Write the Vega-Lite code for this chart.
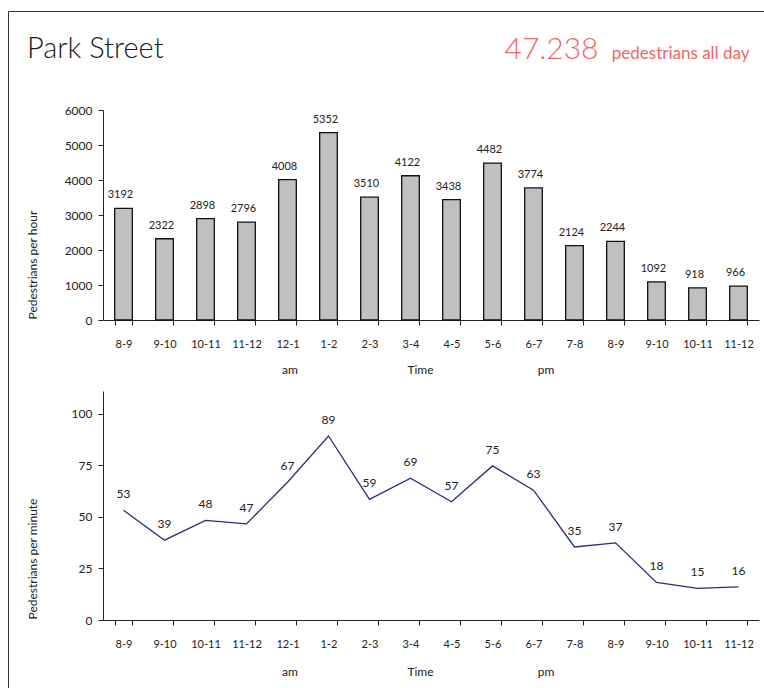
{
  "$schema": "https://vega.github.io/schema/vega-lite/v6.json",
  "width": 758,
  "height": 679,
  "autosize": "none",
  "padding": {"left": 8, "top": 11, "right": -2, "bottom": -2},
  "title": {"text": "Park Street", "anchor": "start", "frame": "group", "fontSize": 29, "fontWeight": 300, "color": "#1a1a1a", "offset": 0, "dx": 19, "dy": 76, "baseline": "alphabetic"},
  "config": {
    "font": "Lato",
    "view": {"stroke": "#333", "strokeWidth": 1},
    "axis": {"grid": false, "domainColor": "#222", "tickColor": "#222", "labelColor": "#222", "titleColor": "#222", "labelFont": "Lato", "titleFont": "Lato", "titleFontWeight": "normal"}
  },
  "resolve": {"scale": {"y": "independent"}, "axis": {"x": "independent", "y": "independent"}},
  "layer": [
    {
      "data": {"values": [
        {"hour": "8-9 am", "count": 3192},
        {"hour": "9-10 am", "count": 2322},
        {"hour": "10-11 am", "count": 2898},
        {"hour": "11-12 am", "count": 2796},
        {"hour": "12-1 pm", "count": 4008},
        {"hour": "1-2 pm", "count": 5352},
        {"hour": "2-3 pm", "count": 3510},
        {"hour": "3-4 pm", "count": 4122},
        {"hour": "4-5 pm", "count": 3438},
        {"hour": "5-6 pm", "count": 4482},
        {"hour": "6-7 pm", "count": 3774},
        {"hour": "7-8 pm", "count": 2124},
        {"hour": "8-9 pm", "count": 2244},
        {"hour": "9-10 pm", "count": 1092},
        {"hour": "10-11 pm", "count": 918},
        {"hour": "11-12 pm", "count": 966}
      ]},
      "layer": [
        {
          "mark": {"type": "bar", "fill": "#c0c0c0", "stroke": "#111", "strokeWidth": 1.3},
          "encoding": {
            "x": {"field": "hour", "type": "nominal", "sort": null,
              "scale": {"type": "band", "domain": ["8-9 am","9-10 am","10-11 am","11-12 am","12-1 pm","1-2 pm","2-3 pm","3-4 pm","4-5 pm","5-6 pm","6-7 pm","7-8 pm","8-9 pm","9-10 pm","10-11 pm","11-12 pm"], "range": [95, 751], "paddingInner": 0.57, "paddingOuter": 0.285},
              "axis": {"orient": "bottom", "title": null, "offset": -370, "tickBand": "extent", "tickSize": 5, "labelPadding": 22, "labelBaseline": "alphabetic", "labelAngle": 0, "labelFontSize": 11, "labelExpr": "split(datum.label, ' ')[0]"}},
            "y": {"field": "count", "type": "quantitative",
              "scale": {"domain": [0, 6000], "range": [309, 99], "nice": false},
              "axis": {"orient": "left", "title": "Pedestrians per hour", "offset": -95, "values": [0,1000,2000,3000,4000,5000,6000], "format": "d", "tickSize": 5, "labelPadding": 6, "labelFontSize": 12, "titleFontSize": 12, "titleAngle": -90, "titleX": -71, "titleY": 308, "titleAlign": "left", "titleBaseline": "middle"}}
          }
        },
        {
          "mark": {"type": "text", "fontSize": 11, "dx": -3, "dy": -10, "baseline": "alphabetic", "color": "#222"},
          "encoding": {
            "x": {"field": "hour", "type": "nominal", "bandPosition": 0.5},
            "y": {"field": "count", "type": "quantitative"},
            "text": {"field": "count", "type": "quantitative", "format": "d"}
          }
        },
        {
          "data": {"values": [{"t": "47.238"}]},
          "mark": {"type": "text", "fontSize": 30, "fontWeight": 300, "color": "#f06666", "align": "right", "baseline": "alphabetic", "dx": -140},
          "encoding": {"x": {"datum": "11-12 pm", "type": "nominal", "bandPosition": 0.5}, "y": {"datum": 7457, "type": "quantitative"}, "text": {"field": "t"}}
        },
        {
          "data": {"values": [{"t": "pedestrians all day"}]},
          "mark": {"type": "text", "fontSize": 17, "color": "#f06666", "align": "right", "baseline": "alphabetic", "dx": 11},
          "encoding": {"x": {"datum": "11-12 pm", "type": "nominal", "bandPosition": 0.5}, "y": {"datum": 7457, "type": "quantitative"}, "text": {"field": "t"}}
        },
        {
          "data": {"values": [{"t": "am"}]},
          "mark": {"type": "text", "fontSize": 12, "color": "#222", "align": "center", "baseline": "alphabetic", "dx": 2.5},
          "encoding": {"x": {"datum": "12-1 pm", "type": "nominal", "bandPosition": 0.5}, "y": {"datum": -1543, "type": "quantitative"}, "text": {"field": "t"}}
        },
        {
          "data": {"values": [{"t": "Time"}]},
          "mark": {"type": "text", "fontSize": 12, "color": "#222", "align": "center", "baseline": "alphabetic", "dx": 10},
          "encoding": {"x": {"datum": "3-4 pm", "type": "nominal", "bandPosition": 0.5}, "y": {"datum": -1543, "type": "quantitative"}, "text": {"field": "t"}}
        },
        {
          "data": {"values": [{"t": "pm"}]},
          "mark": {"type": "text", "fontSize": 12, "color": "#222", "align": "center", "baseline": "alphabetic", "dx": 12.5},
          "encoding": {"x": {"datum": "6-7 pm", "type": "nominal", "bandPosition": 0.5}, "y": {"datum": -1543, "type": "quantitative"}, "text": {"field": "t"}}
        }
      ]
    },
    {
      "data": {"values": [
        {"hour": "8-9 am", "perMin": 53.2},
        {"hour": "9-10 am", "perMin": 38.7},
        {"hour": "10-11 am", "perMin": 48.3},
        {"hour": "11-12 am", "perMin": 46.6},
        {"hour": "12-1 pm", "perMin": 66.8},
        {"hour": "1-2 pm", "perMin": 89.2},
        {"hour": "2-3 pm", "perMin": 58.5},
        {"hour": "3-4 pm", "perMin": 68.7},
        {"hour": "4-5 pm", "perMin": 57.3},
        {"hour": "5-6 pm", "perMin": 74.7},
        {"hour": "6-7 pm", "perMin": 62.9},
        {"hour": "7-8 pm", "perMin": 35.4},
        {"hour": "8-9 pm", "perMin": 37.4},
        {"hour": "9-10 pm", "perMin": 18.2},
        {"hour": "10-11 pm", "perMin": 15.3},
        {"hour": "11-12 pm", "perMin": 16.1}
      ]},
      "layer": [
        {
          "mark": {"type": "line", "color": "#2c2c78", "strokeWidth": 1.3},
          "encoding": {
            "x": {"field": "hour", "type": "nominal", "sort": null, "bandPosition": 0.5, "scale": {"type": "band"},
              "axis": {"orient": "bottom", "title": null, "offset": -70, "tickBand": "extent", "tickSize": 5, "labelPadding": 22, "labelBaseline": "alphabetic", "labelAngle": 0, "labelFontSize": 11, "labelExpr": "split(datum.label, ' ')[0]"}},
            "y": {"field": "perMin", "type": "quantitative",
              "scale": {"domain": [0, 111], "range": [609, 380], "nice": false},
              "axis": {"orient": "left", "title": "Pedestrians per minute", "offset": -95, "values": [0,25,50,75,100], "tickSize": 5, "labelPadding": 6, "labelFontSize": 12, "titleFontSize": 12, "titleAngle": -90, "titleX": -71, "titleY": 608, "titleAlign": "left", "titleBaseline": "middle"}}
          }
        },
        {
          "mark": {"type": "text", "fontSize": 12, "dy": -12, "baseline": "alphabetic", "color": "#222"},
          "encoding": {
            "x": {"field": "hour", "type": "nominal", "bandPosition": 0.5},
            "y": {"field": "perMin", "type": "quantitative"},
            "text": {"field": "perMin", "type": "quantitative", "format": ".0f"}
          }
        },
        {
          "data": {"values": [{"t": "am"}]},
          "mark": {"type": "text", "fontSize": 12, "color": "#222", "align": "center", "baseline": "alphabetic", "dx": 2.5},
          "encoding": {"x": {"datum": "12-1 pm", "type": "nominal", "bandPosition": 0.5}, "y": {"datum": -27, "type": "quantitative"}, "text": {"field": "t"}}
        },
        {
          "data": {"values": [{"t": "Time"}]},
          "mark": {"type": "text", "fontSize": 12, "color": "#222", "align": "center", "baseline": "alphabetic", "dx": 10},
          "encoding": {"x": {"datum": "3-4 pm", "type": "nominal", "bandPosition": 0.5}, "y": {"datum": -27, "type": "quantitative"}, "text": {"field": "t"}}
        },
        {
          "data": {"values": [{"t": "pm"}]},
          "mark": {"type": "text", "fontSize": 12, "color": "#222", "align": "center", "baseline": "alphabetic", "dx": 12.5},
          "encoding": {"x": {"datum": "6-7 pm", "type": "nominal", "bandPosition": 0.5}, "y": {"datum": -27, "type": "quantitative"}, "text": {"field": "t"}}
        }
      ]
    }
  ]
}
